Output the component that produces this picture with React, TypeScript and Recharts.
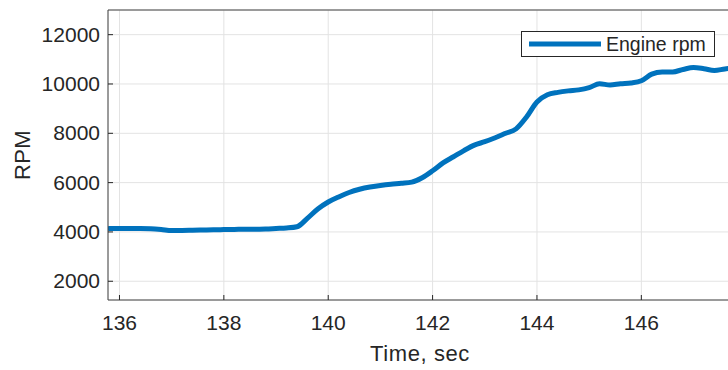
import { LineChart, Line, XAxis, YAxis, CartesianGrid } from 'recharts';

const times = [
  135.8, 136.0, 136.2, 136.4, 136.6, 136.8, 137.0, 137.2, 137.4, 137.6,
  137.8, 138.0, 138.2, 138.4, 138.6, 138.8, 139.0, 139.2, 139.4, 139.6,
  139.8, 140.0, 140.2, 140.4, 140.6, 140.8, 141.0, 141.2, 141.4, 141.6,
  141.8, 142.0, 142.2, 142.4, 142.6, 142.8, 143.0, 143.2, 143.4, 143.6,
  143.8, 144.0, 144.2, 144.4, 144.6, 144.8, 145.0, 145.2, 145.4, 145.6,
  145.8, 146.0, 146.2, 146.4, 146.6, 146.8, 147.0, 147.2, 147.4, 147.6,
  147.8,
];

const engineRpm = [
  4140, 4140, 4140, 4140, 4130, 4100, 4060, 4060, 4070, 4080,
  4090, 4095, 4100, 4110, 4110, 4120, 4140, 4160, 4210, 4550,
  4930, 5215, 5420, 5600, 5730, 5820, 5880, 5930, 5970, 6020,
  6200, 6480, 6800, 7050, 7300, 7520, 7660, 7820, 8000, 8180,
  8660, 9270, 9560, 9660, 9720, 9760, 9850, 10010, 9960, 10010,
  10040, 10130, 10400, 10490, 10490, 10590, 10670, 10620, 10550, 10610,
  10650,
];

const xTicks = [136, 138, 140, 142, 144, 146];
const yTicks = [2000, 4000, 6000, 8000, 10000, 12000];

const xDomain = [135.78, 147.68];
const yDomain = [1240, 13000];

const FONT = '"Liberation Sans", Arial, Helvetica, sans-serif';
const INK = '#262626';
const BLUE = '#0072BD';

const data = times.map((t, i) => ({ t, rpm: engineRpm[i] }));

const XTick = ({ x, payload }: any) => (
  <text x={x} y={330} textAnchor="middle" fontSize={21} fill={INK} fontFamily={FONT}>
    {payload.value}
  </text>
);

const YTick = ({ y, payload }: any) => (
  <text x={100} y={y + 7} textAnchor="end" fontSize={21} fill={INK} fontFamily={FONT}>
    {payload.value}
  </text>
);

// legend drawn as an overlay so it doesn't eat plot space
const LegendBox = () => (
  <svg width={196} height={27} style={{ position: 'absolute', left: 521, top: 31 }}>
    <rect x={0.5} y={0.5} width={193} height={25} fill="#fff" stroke={INK} strokeWidth={1} />
    <line x1={8} x2={80} y1={13} y2={13} stroke={BLUE} strokeWidth={5} />
    <text x={85} y={20} fontSize={19.5} fill={INK} fontFamily={FONT}>Engine rpm</text>
  </svg>
);

export default function App() {
  return (
    <div style={{ position: 'absolute', left: 0, top: 0, width: 728, height: 370, overflow: 'hidden', background: '#fff' }}>
      <LineChart width={740} height={370} data={data} margin={{ top: 9, right: 10, bottom: 0, left: 0 }}>
        <CartesianGrid xAxisId="b" yAxisId="l" stroke="#e3e3e3" strokeWidth={1} />
        <XAxis
          xAxisId="b"
          dataKey="t"
          type="number"
          domain={xDomain}
          allowDataOverflow
          ticks={xTicks}
          height={70}
          tick={<XTick />}
          tickSize={-5}
          tickLine={{ stroke: INK }}
          axisLine={{ stroke: '#444' }}
          label={{
            content: () => (
              <text x={420} y={361} textAnchor="middle" fontSize={22} letterSpacing={0.6} fill={INK} fontFamily={FONT}>
                Time, sec
              </text>
            ),
          }}
        />
        <XAxis
          xAxisId="t"
          orientation="top"
          dataKey="t"
          type="number"
          domain={xDomain}
          allowDataOverflow
          ticks={xTicks}
          height={1}
          tick={false}
          tickSize={-5}
          tickLine={{ stroke: INK }}
          axisLine={{ stroke: '#444' }}
        />
        <YAxis
          yAxisId="l"
          type="number"
          domain={yDomain}
          allowDataOverflow
          ticks={yTicks}
          width={108}
          tick={<YTick />}
          tickSize={-5}
          tickLine={{ stroke: INK }}
          axisLine={{ stroke: '#444' }}
          label={{
            content: () => (
              <text
                x={22}
                y={155}
                transform="rotate(-90 22 155)"
                textAnchor="middle"
                dominantBaseline="central"
                fontSize={22}
                letterSpacing={0.4}
                fill={INK}
                fontFamily={FONT}
              >
                RPM
              </text>
            ),
          }}
        />
        <YAxis
          yAxisId="r"
          orientation="right"
          type="number"
          domain={yDomain}
          allowDataOverflow
          ticks={yTicks}
          width={1}
          tick={false}
          tickSize={-5}
          tickLine={{ stroke: INK }}
          axisLine={{ stroke: '#444' }}
        />
        <Line
          xAxisId="b"
          yAxisId="l"
          type="monotone"
          dataKey="rpm"
          name="Engine rpm"
          stroke={BLUE}
          strokeWidth={5}
          strokeLinejoin="round"
          strokeLinecap="round"
          dot={false}
          activeDot={false}
          isAnimationActive={false}
        />
      </LineChart>
      <LegendBox />
    </div>
  );
}
